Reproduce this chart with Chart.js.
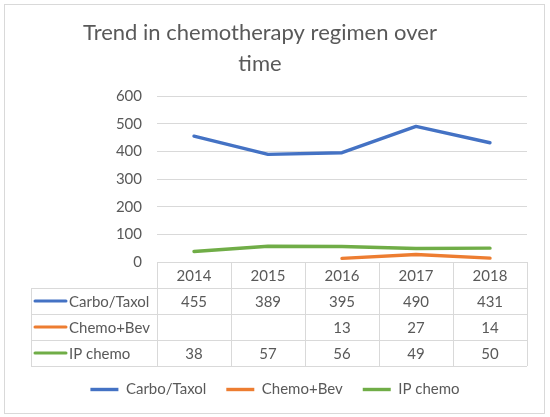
<!DOCTYPE html>
<html><head><meta charset="utf-8">
<script src="https://cdn.jsdelivr.net/npm/chart.js@4.4.1/dist/chart.umd.min.js"></script>
<style>html,body{margin:0;padding:0;background:#fff;}</style>
</head><body>
<canvas id="c" width="550" height="417" style="width:550px;height:417px;display:block"></canvas>
<script>
const categories = ['2014', '2015', '2016', '2017', '2018'];
const carboTaxol = [455, 389, 395, 490, 431];
const chemoBev = [null, null, 13, 27, 14];
const ipChemo = [38, 57, 56, 49, 50];
const seriesNames = ['Carbo/Taxol', 'Chemo+Bev', 'IP chemo'];
const seriesColors = ['#4472C4', '#ED7D31', '#70AD47'];
const titleLines = ['Trend in chemotherapy regimen over', 'time'];
const yMin = 0, yMax = 600, yStep = 100;

const TEXT = '#595959';
const GRID = '#D9D9D9';
const FONT = 'Lato';

const framePlugin = {
  id: 'frame',
  afterLayout(chart) {
    // Excel centres the title slightly left of the chart centre
    const t = chart.titleBlock;
    if (t) { t.right = t.left + 520; t.width = 520; }
  },
  beforeDraw(chart) {
    const ctx = chart.ctx;
    ctx.save();
    ctx.fillStyle = '#fff';
    ctx.fillRect(0, 0, chart.width, chart.height);
    ctx.strokeStyle = GRID;
    ctx.lineWidth = 1;
    ctx.strokeRect(4.5, 4.5, 540, 409);
    ctx.restore();
  }
};

const tablePlugin = {
  id: 'dataTable',
  afterDraw(chart) {
    const ctx = chart.ctx;
    const xs = chart.scales.x;
    const area = chart.chartArea;
    const n = categories.length;
    const colW = (area.right - area.left) / n;
    const top = area.bottom;
    const rowH = 26;
    const tableLeft = 31;
    const rows = [carboTaxol, chemoBev, ipChemo];
    const line = (x0, y0, x1, y1) => { ctx.beginPath(); ctx.moveTo(x0, y0); ctx.lineTo(x1, y1); ctx.stroke(); };
    ctx.save();
    ctx.strokeStyle = GRID;
    ctx.lineWidth = 1;
    for (let r = 0; r <= rows.length + 1; r++) {
      const y = Math.round(top + r * rowH) + 0.5;
      line(r === 0 ? area.left : tableLeft, y, area.right, y);
    }
    for (let i = 0; i <= n; i++) {
      const x = Math.round(area.left + i * colW) + 0.5;
      line(x, top, x, top + (rows.length + 1) * rowH);
    }
    line(tableLeft + 0.5, top + rowH, tableLeft + 0.5, top + (rows.length + 1) * rowH);

    ctx.font = '15px ' + FONT;
    ctx.fillStyle = TEXT;
    ctx.textBaseline = 'middle';
    ctx.textAlign = 'center';
    categories.forEach((c, i) => ctx.fillText(c, xs.getPixelForValue(i), top + rowH / 2 + 1));
    rows.forEach((data, r) => {
      const yc = top + (r + 1.5) * rowH + 1;
      ctx.textAlign = 'center';
      ctx.fillStyle = TEXT;
      data.forEach((v, i) => { if (v !== null) ctx.fillText(String(v), xs.getPixelForValue(i), yc); });
      ctx.strokeStyle = seriesColors[r];
      ctx.lineWidth = 3;
      ctx.lineCap = 'round';
      line(35, yc - 1, 66, yc - 1);
      ctx.textAlign = 'left';
      ctx.fillText(seriesNames[r], 69, yc);
    });
    ctx.restore();
  }
};

const mkDs = (label, data, color) => ({
  label, data,
  borderColor: color, backgroundColor: color,
  borderWidth: 3.4, pointRadius: 0, pointHoverRadius: 0,
  borderCapStyle: 'round', borderJoinStyle: 'round',
  tension: 0, spanGaps: false, fill: false
});

new Chart(document.getElementById('c'), {
  type: 'line',
  data: {
    labels: categories,
    datasets: [
      mkDs(seriesNames[0], carboTaxol, seriesColors[0]),
      mkDs(seriesNames[1], chemoBev, seriesColors[1]),
      mkDs(seriesNames[2], ipChemo, seriesColors[2])
    ]
  },
  options: {
    responsive: false,
    animation: false,
    events: [],
    layout: { padding: { left: 0, right: 0, top: 0, bottom: 10 } },
    scales: {
      x: {
        type: 'category',
        offset: true,
        grid: { display: false },
        border: { display: false },
        ticks: { display: false },
        afterFit(s) { s.height = 100; }
      },
      y: {
        min: yMin, max: yMax,
        border: { display: false },
        grid: { color: GRID, lineWidth: 1, drawTicks: false },
        ticks: { stepSize: yStep, padding: 15, color: TEXT, font: { family: FONT, size: 15 } },
        afterFit(s) { s.width = 157; }
      },
      y2: {
        position: 'right',
        display: true,
        grid: { display: false },
        border: { display: false },
        ticks: { display: false },
        afterFit(s) { s.width = 23; }
      }
    },
    plugins: {
      title: {
        display: true,
        text: titleLines,
        color: TEXT,
        font: { family: FONT, size: 22, weight: 'normal', lineHeight: 1.4 },
        padding: { top: 18, bottom: 16.4 }
      },
      legend: {
        display: true,
        position: 'bottom',
        labels: {
          usePointStyle: true,
          pointStyle: 'line',
          pointStyleWidth: 28,
          padding: 20,
          color: TEXT,
          font: { family: FONT, size: 15 }
        }
      },
      tooltip: { enabled: false }
    }
  },
  plugins: [framePlugin, tablePlugin]
});
</script>
</body></html>
